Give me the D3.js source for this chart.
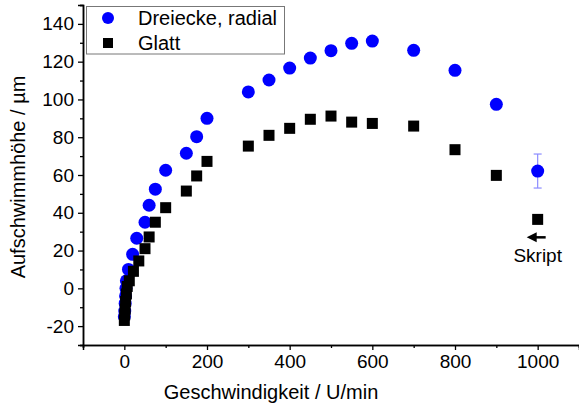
<!DOCTYPE html>
<html lang='de'>
  <head>
    <meta charset='utf-8'>
    <style type='text/css'>
      body { margin: 0; background-color: #fff; }
      svg text { font-family: Arial, 'Liberation Sans', sans-serif; fill: #000; }
    </style>
  </head>
  <body>
    <svg id='chart' width='579' height='405'></svg>

    <script src='https://d3js.org/d3.v7.min.js'></script>
    <script type='text/javascript'>
        // Data (speed in U/min, height in µm)
        var dreieckeX = [0, 1, 2, 3, 4, 5, 10, 20, 30, 50, 60, 75, 100, 150, 175, 200,
                         300, 350, 400, 450, 500, 550, 600, 700, 800, 900, 1000];
        var dreieckeY = [-15, -12, -8, -4, 0, 4, 10, 18, 26.5, 35, 44, 52.5, 62.5, 71.5, 80.3, 90,
                         104, 110.3, 116.6, 121.9, 125.8, 129.7, 130.9, 126, 115.4, 97.4, 62.1];
        var dreieckeErr = [0, 0, 0, 0, 0, 0, 0, 0, 0, 0, 0, 0, 0, 0, 0, 0,
                           0, 0, 0, 0, 0, 0, 0, 0, 0, 0, 9];

        var glattX = [0, 1, 2, 3, 5, 7, 12, 22, 35, 50, 60, 75, 100, 150, 175, 200,
                      300, 350, 400, 450, 500, 550, 600, 700, 800, 900, 1000];
        var glattY = [-17, -14, -11, -7, -3, 1, 4, 9, 14.5, 21, 27.2, 35, 42.7, 51.5, 59.5, 67.2,
                      75.3, 81, 84.7, 89.5, 91.2, 88, 87.3, 85.9, 73.4, 59.8, 36.5];

        var xTicks = [0, 200, 400, 600, 800, 1000];
        var xMinor = [-100, 100, 300, 500, 700, 900, 1100];
        var yTicks = [-20, 0, 20, 40, 60, 80, 100, 120, 140];
        var yMinor = [-30, -10, 10, 30, 50, 70, 90, 110, 130, 150];
        var seriesNames = ["Dreiecke, radial", "Glatt"];

        var svg = d3.select("#chart");

        var x = d3.scaleLinear().domain([-100, 1100]).range([83, 579]);
        var y = d3.scaleLinear().domain([-30, 150]).range([345, 5]);

        // plain hyphen for negatives, like the original
        var fmt = function(d) { return String(d); };

        // axes
        function styleAxis(g) {
            g.select(".domain").attr("stroke", "#000").attr("stroke-width", 1.5);
            g.selectAll(".tick line").attr("stroke", "#000").attr("stroke-width", 1.3);
            g.selectAll(".tick text").style("font-size", "19px")
                .style("font-family", "Arial, 'Liberation Sans', sans-serif");
        }

        svg.append("g")
            .attr("transform", "translate(0," + y(-30) + ")")
            .call(d3.axisBottom(x).tickValues(xMinor).tickSize(3).tickFormat(""))
            .call(styleAxis);
        svg.append("g")
            .attr("transform", "translate(0," + y(-30) + ")")
            .call(d3.axisBottom(x).tickValues(xTicks).tickSize(5).tickPadding(5).tickFormat(fmt))
            .call(styleAxis);

        svg.append("g")
            .attr("transform", "translate(" + x(-100) + ",0)")
            .call(d3.axisLeft(y).tickValues(yMinor).tickSize(3).tickFormat(""))
            .call(styleAxis);
        svg.append("g")
            .attr("transform", "translate(" + x(-100) + ",0)")
            .call(d3.axisLeft(y).tickValues(yTicks).tickSize(5).tickPadding(4).tickFormat(fmt))
            .call(styleAxis);

        // axis titles
        svg.append("text")
            .attr("x", 271).attr("y", 399)
            .attr("text-anchor", "middle")
            .style("font-size", "20px")
            .text("Geschwindigkeit / U/min");

        svg.append("text")
            .attr("transform", "translate(25,177) rotate(-90)")
            .attr("text-anchor", "middle")
            .style("font-size", "20px")
            .text("Aufschwimmhöhe / µm");

        // series data
        var dreiecke = dreieckeX.map(function(d, i) { return {x: d, y: dreieckeY[i], e: dreieckeErr[i]}; });
        var glatt = glattX.map(function(d, i) { return {x: d, y: glattY[i]}; });

        // error bars
        var err = svg.append("g").selectAll("g")
            .data(dreiecke.filter(function(d) { return d.e > 0; }))
            .enter().append("g")
            .attr("stroke", "#8c8cff").attr("stroke-width", 1.2);
        err.append("line")
            .attr("x1", function(d) { return x(d.x); }).attr("x2", function(d) { return x(d.x); })
            .attr("y1", function(d) { return y(d.y + d.e); }).attr("y2", function(d) { return y(d.y - d.e); });
        err.append("line")
            .attr("x1", function(d) { return x(d.x) - 4; }).attr("x2", function(d) { return x(d.x) + 4; })
            .attr("y1", function(d) { return y(d.y + d.e); }).attr("y2", function(d) { return y(d.y + d.e); });
        err.append("line")
            .attr("x1", function(d) { return x(d.x) - 4; }).attr("x2", function(d) { return x(d.x) + 4; })
            .attr("y1", function(d) { return y(d.y - d.e); }).attr("y2", function(d) { return y(d.y - d.e); });

        svg.append("g").selectAll("circle")
            .data(dreiecke)
            .enter().append("circle")
            .attr("cx", function(d) { return x(d.x); })
            .attr("cy", function(d) { return y(d.y); })
            .attr("r", 6.5)
            .attr("fill", "#0000ff");

        svg.append("g").selectAll("rect")
            .data(glatt)
            .enter().append("rect")
            .attr("x", function(d) { return x(d.x) - 5.5; })
            .attr("y", function(d) { return y(d.y) - 5.5; })
            .attr("width", 11).attr("height", 11)
            .attr("fill", "#000");

        // "Skript" annotation with arrow pointing left
        var ax = x(1000), ay = y(27);
        svg.append("line")
            .attr("x1", ax - 2).attr("y1", ay)
            .attr("x2", ax + 8).attr("y2", ay)
            .attr("stroke", "#000").attr("stroke-width", 2.5);
        svg.append("path")
            .attr("d", "M" + (ax - 11) + "," + ay + " L" + (ax - 1) + "," + (ay - 5) +
                       " L" + (ax - 1) + "," + (ay + 5) + " Z")
            .attr("fill", "#000");
        svg.append("text")
            .attr("x", ax).attr("y", y(14))
            .attr("text-anchor", "middle")
            .style("font-size", "19px")
            .text("Skript");

        // legend
        var legend = svg.append("g");
        legend.append("rect")
            .attr("x", 86.5).attr("y", 6.5).attr("width", 198).attr("height", 47.5)
            .attr("fill", "#fff").attr("stroke", "#777").attr("stroke-width", 1);
        legend.append("circle").attr("cx", 108).attr("cy", 18).attr("r", 6).attr("fill", "#0000ff");
        legend.append("rect").attr("x", 103).attr("y", 38).attr("width", 10).attr("height", 10).attr("fill", "#000");
        legend.selectAll("text.lbl")
            .data(seriesNames)
            .enter().append("text")
            .attr("class", "lbl")
            .attr("x", 138)
            .attr("y", function(d, i) { return 25 + i * 25; })
            .style("font-size", "20px")
            .text(function(d) { return d; });
    </script>
  </body>
</html>
